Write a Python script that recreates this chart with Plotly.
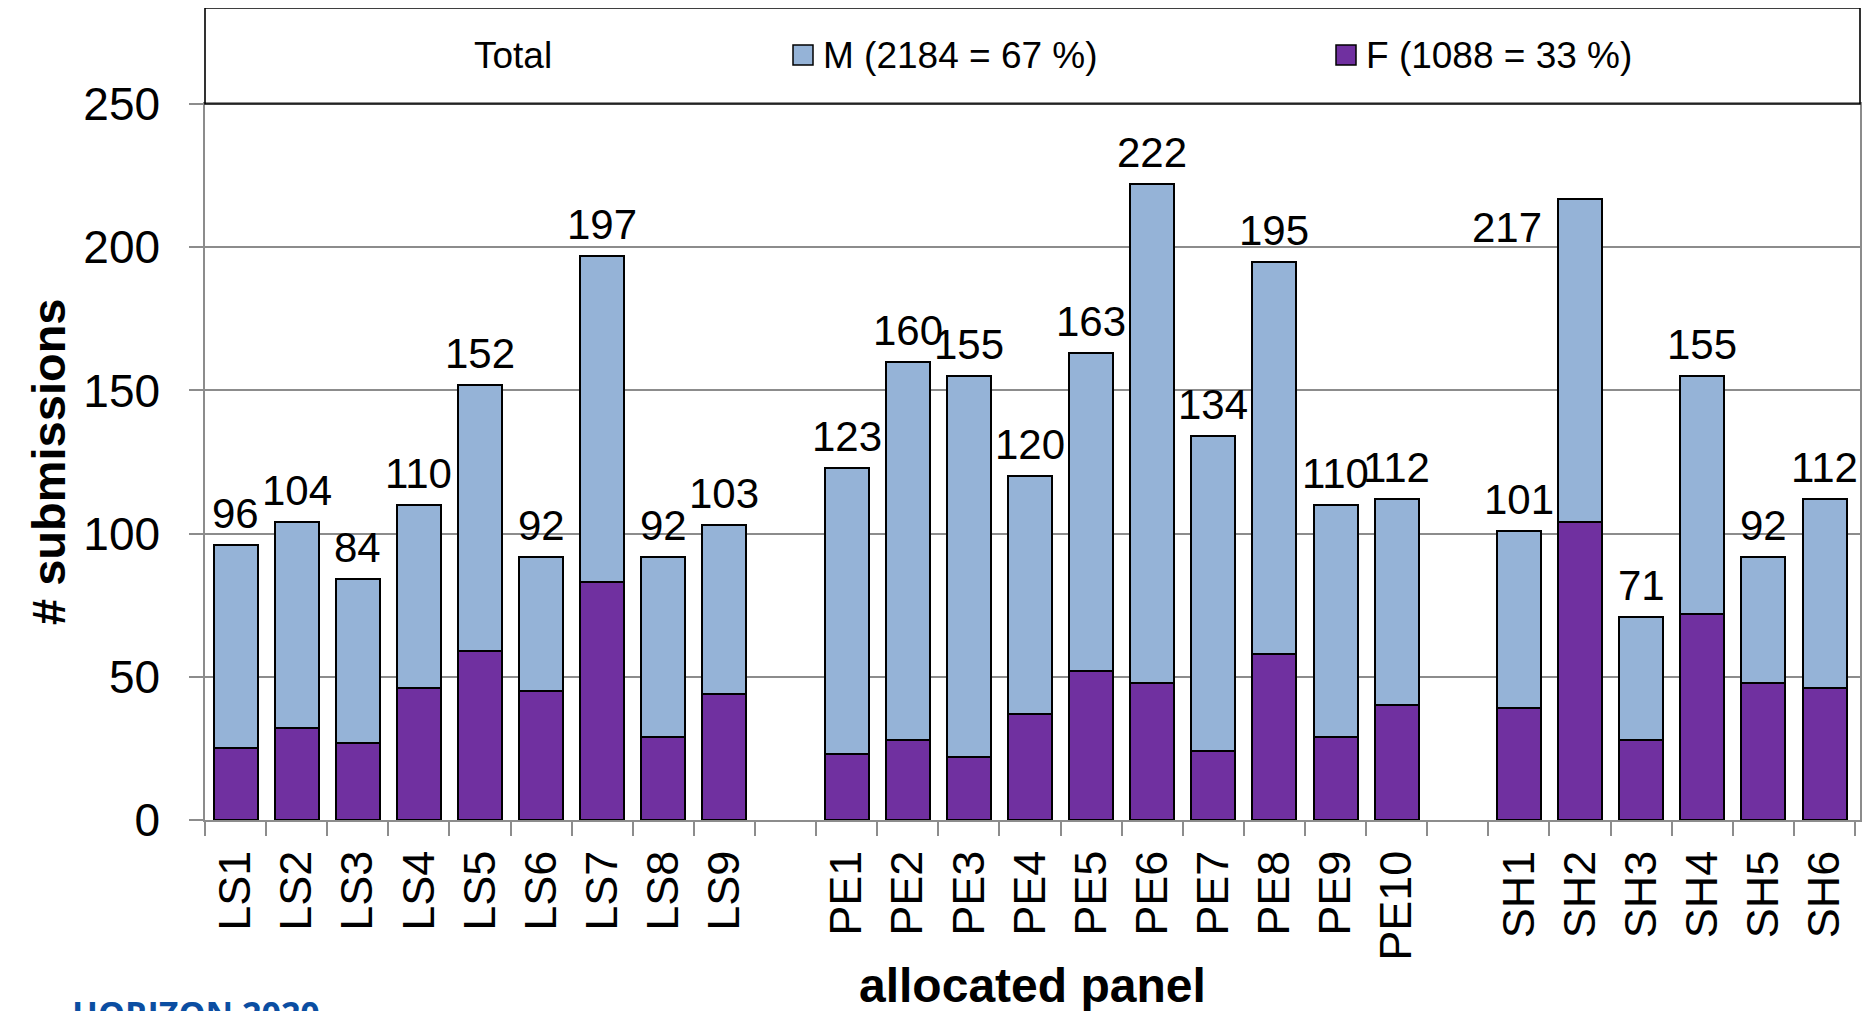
import plotly.graph_objects as go

# panels and counts
ls_panels = ["LS1", "LS2", "LS3", "LS4", "LS5", "LS6", "LS7", "LS8", "LS9"]
pe_panels = ["PE1", "PE2", "PE3", "PE4", "PE5", "PE6", "PE7", "PE8", "PE9", "PE10"]
sh_panels = ["SH1", "SH2", "SH3", "SH4", "SH5", "SH6"]

ls_total = [96, 104, 84, 110, 152, 92, 197, 92, 103]
pe_total = [123, 160, 155, 120, 163, 222, 134, 195, 110, 112]
sh_total = [101, 217, 71, 155, 92, 112]

ls_female = [25, 32, 27, 46, 59, 45, 83, 29, 44]
pe_female = [23, 28, 22, 37, 52, 48, 24, 58, 29, 40]
sh_female = [39, 104, 28, 72, 48, 46]

FONT = "Liberation Sans, Arial, sans-serif"
C_M = "#95B3D7"
C_F = "#7030A0"
GRID = "#8C8C8C"

# build one categorical axis with empty spacer slots between the groups
panels, totals, female = [], [], []
for grp, tot, fem, spacer in [(ls_panels, ls_total, ls_female, " "),
                              (pe_panels, pe_total, pe_female, "  "),
                              (sh_panels, sh_total, sh_female, None)]:
    panels += grp
    totals += tot
    female += fem
    if spacer:
        panels.append(spacer)
        totals.append(None)
        female.append(None)

male = [t - f if t is not None else None for t, f in zip(totals, female)]

sum_m = sum(v for v in male if v is not None)
sum_f = sum(v for v in female if v is not None)
sum_all = sum_m + sum_f

fig = go.Figure()
fig.add_trace(go.Bar(name="F", x=panels, y=female, marker_color=C_F,
                     marker_line=dict(color="black", width=2)))
fig.add_trace(go.Bar(name="M", x=panels, y=male, marker_color=C_M,
                     marker_line=dict(color="black", width=2)))

# total labels above each bar (SH2 label sits left of its bar in the original)
annotations = []
for p, t in zip(panels, totals):
    if t is None:
        continue
    if p == "SH2":
        annotations.append(dict(x=p, y=t, text=str(t), showarrow=False,
                                xanchor="right", yanchor="middle",
                                xshift=-36, yshift=-29,
                                font=dict(size=42, color="black")))
    else:
        annotations.append(dict(x=p, y=t, text=str(t), showarrow=False,
                                xanchor="center", yanchor="bottom", yshift=6,
                                font=dict(size=42, color="black")))

# page pixels -> paper coords (the page body adds an 8px offset)
pw = 1655
ph = 716


def px_x(v):
    return (v - 205) / pw


def px_y(v):
    return (820 - v) / ph


shapes = [
    dict(type="rect", xref="paper", yref="paper", x0=0, x1=1, y0=1, y1=px_y(8),
         line=dict(color="black", width=1.6), fillcolor="rgba(0,0,0,0)"),
    dict(type="rect", xref="paper", yref="paper", x0=px_x(793), x1=px_x(813),
         y0=px_y(65), y1=px_y(45), line=dict(color="black", width=1.5), fillcolor=C_M),
    dict(type="rect", xref="paper", yref="paper", x0=px_x(1336), x1=px_x(1356),
         y0=px_y(65), y1=px_y(45), line=dict(color="black", width=1.5), fillcolor=C_F),
]

legend_font = dict(size=37, color="black")
annotations += [
    dict(xref="paper", yref="paper", x=px_x(472), y=px_y(55), text="Total",
         showarrow=False, xanchor="left", yanchor="middle", font=legend_font),
    dict(xref="paper", yref="paper", x=px_x(821), y=px_y(55),
         text=f"M ({sum_m} = {round(100 * sum_m / sum_all)} %)",
         showarrow=False, xanchor="left", yanchor="middle", font=legend_font),
    dict(xref="paper", yref="paper", x=px_x(1364), y=px_y(55),
         text=f"F ({sum_f} = {round(100 * sum_f / sum_all)} %)",
         showarrow=False, xanchor="left", yanchor="middle", font=legend_font),
    # axis titles
    dict(xref="paper", yref="paper", x=px_x(48), y=0.5, text="<b># submissions</b>",
         textangle=-90, showarrow=False, xanchor="center", yanchor="middle",
         font=dict(size=47, color="black")),
    dict(xref="paper", yref="paper", x=0.5, y=px_y(957), text="<b>allocated panel</b>",
         showarrow=False, xanchor="center", yanchor="top",
         font=dict(size=48, color="black")),
    dict(xref="paper", yref="paper", x=px_x(70), y=px_y(988), text="<b>HORIZON 2020</b>",
         showarrow=False, xanchor="left", yanchor="top",
         font=dict(size=34, color="#0B4EA2", family="Open Sans")),
]

fig.update_layout(
    width=1868, height=1003,
    barmode="stack", bargap=0.28,
    showlegend=False,
    plot_bgcolor="white", paper_bgcolor="white",
    font=dict(family=FONT, color="black"),
    margin=dict(l=197, r=16, t=96, b=191),
    xaxis=dict(type="category", categoryorder="array", categoryarray=panels,
               tickson="boundaries", ticks="outside", ticklen=14, tickwidth=1.5,
               tickcolor=GRID, tickangle=-90, tickfont=dict(size=45),
               showline=True, linecolor=GRID, linewidth=1.5, mirror=True,
               showgrid=False, ticklabelstandoff=11),
    yaxis=dict(range=[0, 250], dtick=50, ticks="outside", ticklen=14, tickwidth=1.5,
               tickcolor=GRID, tickfont=dict(size=46), showgrid=True,
               gridcolor=GRID, gridwidth=1.5, showline=True, linecolor=GRID,
               linewidth=1.5, mirror=True, zeroline=False, ticklabelstandoff=20),
    shapes=shapes,
    annotations=annotations,
)

fig.write_html("out.html")
